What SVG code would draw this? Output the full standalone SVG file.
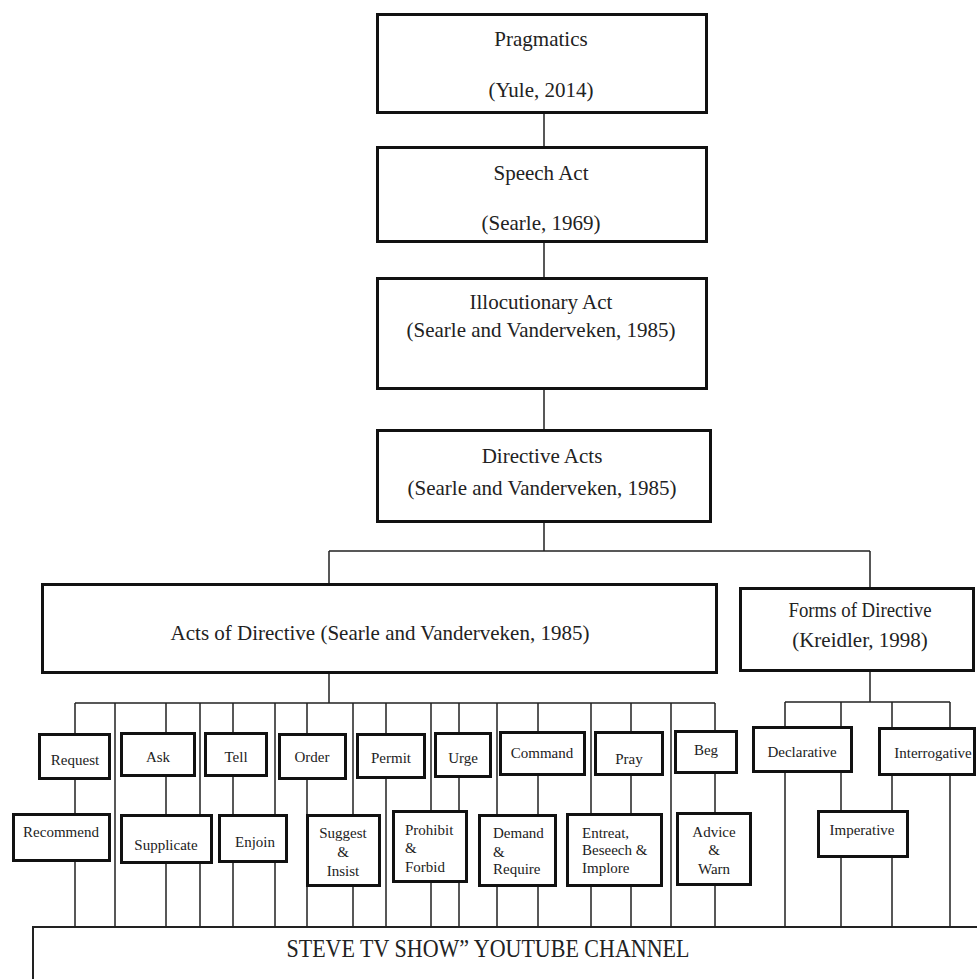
<svg xmlns="http://www.w3.org/2000/svg" width="977" height="979" viewBox="0 0 977 979">
<style>
.box{fill:#fff;stroke:#111;stroke-width:3}
.bot{fill:#fff;stroke:#222;stroke-width:2}
.ln{stroke:#222;stroke-width:1.5;fill:none}
text{font-family:"Liberation Serif","Times New Roman",serif;fill:#222}
.big{font-size:21px;text-anchor:middle}
.sm{font-size:15px;text-anchor:middle}
.sl{font-size:15px}
</style>
<rect width="977" height="979" fill="#fff"/>
<g id="bottom">
<rect class="bot" x="33" y="927" width="960" height="80"/>
<text x="488" y="957" font-size="25" text-anchor="middle" textLength="403" lengthAdjust="spacingAndGlyphs">STEVE TV SHOW” YOUTUBE CHANNEL</text>
</g>
<g id="connectors">
<path class="ln" d="M544 114V146M544 243V277M544 390V429M544 523V551M329 551H870M329 551V583M870 551V587M329 674V703M870 672V702M75 703H715M785 702H950"/>
<path class="ln" d="M75 703V927M115 703V927M166 703V927M200 703V927M233 703V927M275 703V927M307 703V927M353 703V927M386 703V927M431 703V927M459 703V927M497 703V927M538 703V927M591 703V927M631 703V927M671 703V927M715 703V927"/>
<path class="ln" d="M785 702V927M841 702V927M892 702V927M950 702V927"/>
</g>
<g id="pragmatics"><rect class="box" x="377.5" y="14.5" width="329" height="98"/>
<text class="big" x="541" y="46">Pragmatics</text><text class="big" x="541" y="97">(Yule, 2014)</text></g>
<g id="speech-act"><rect class="box" x="377.5" y="147.5" width="329" height="94"/>
<text class="big" x="541" y="180">Speech Act</text><text class="big" x="541" y="230">(Searle, 1969)</text></g>
<g id="illocutionary"><rect class="box" x="377.5" y="278.5" width="329" height="110"/>
<text class="big" x="541" y="309">Illocutionary Act</text><text class="big" x="541" y="337">(Searle and Vanderveken, 1985)</text></g>
<g id="directive-acts"><rect class="box" x="377.5" y="430.5" width="333" height="91"/>
<text class="big" x="542" y="463">Directive Acts</text><text class="big" x="542" y="495">(Searle and Vanderveken, 1985)</text></g>
<g id="acts-of-directive"><rect class="box" x="42.5" y="584.5" width="674" height="88"/>
<text class="big" x="380" y="640">Acts of Directive (Searle and Vanderveken, 1985)</text></g>
<g id="forms-of-directive"><rect class="box" x="740.5" y="588.5" width="233" height="82"/>
<text class="big" x="860" y="617" textLength="143" lengthAdjust="spacingAndGlyphs">Forms of Directive</text><text class="big" x="860" y="647">(Kreidler, 1998)</text></g>
<g id="request"><rect class="box" x="39.5" y="734.5" width="70" height="44"/><text class="sm" x="75" y="765">Request</text></g>
<g id="ask"><rect class="box" x="121.5" y="733.5" width="73" height="42"/><text class="sm" x="158" y="762">Ask</text></g>
<g id="tell"><rect class="box" x="205.5" y="733.5" width="61" height="42"/><text class="sm" x="236" y="762">Tell</text></g>
<g id="order"><rect class="box" x="279.5" y="734.5" width="66" height="44"/><text class="sm" x="312" y="762">Order</text></g>
<g id="permit"><rect class="box" x="357.5" y="734.5" width="67" height="43"/><text class="sm" x="391" y="763">Permit</text></g>
<g id="urge"><rect class="box" x="435.5" y="733.5" width="55" height="43"/><text class="sm" x="463" y="763">Urge</text></g>
<g id="command"><rect class="box" x="500.5" y="732.5" width="84" height="42"/><text class="sm" x="542" y="758">Command</text></g>
<g id="pray"><rect class="box" x="595.5" y="732.5" width="67" height="42"/><text class="sm" x="629" y="764">Pray</text></g>
<g id="beg"><rect class="box" x="675.5" y="731.5" width="61" height="41"/><text class="sm" x="706" y="755">Beg</text></g>
<g id="declarative"><rect class="box" x="753.5" y="727.5" width="98" height="44"/><text class="sm" x="802" y="757">Declarative</text></g>
<g id="interrogative"><rect class="box" x="879.5" y="728.5" width="95" height="46"/><text class="sm" x="933" y="758">Interrogative</text></g>
<g id="recommend"><rect class="box" x="13.5" y="814.5" width="96" height="46"/><text class="sm" x="61" y="837">Recommend</text></g>
<g id="supplicate"><rect class="box" x="121.5" y="815.5" width="90" height="47"/><text class="sm" x="166" y="850">Supplicate</text></g>
<g id="enjoin"><rect class="box" x="219.5" y="815.5" width="67" height="46"/><text class="sm" x="255" y="847">Enjoin</text></g>
<g id="suggest"><rect class="box" x="307.5" y="815.5" width="72" height="70"/>
<text class="sm" x="343" y="838">Suggest</text><text class="sm" x="343" y="857">&amp;</text><text class="sm" x="343" y="876">Insist</text></g>
<g id="prohibit"><rect class="box" x="393.5" y="811.5" width="73" height="70"/>
<text class="sl" x="405" y="835">Prohibit</text><text class="sl" x="405" y="853">&amp;</text><text class="sl" x="405" y="872">Forbid</text></g>
<g id="demand"><rect class="box" x="479.5" y="815.5" width="76" height="70"/>
<text class="sl" x="493" y="838">Demand</text><text class="sl" x="493" y="857">&amp;</text><text class="sl" x="493" y="874">Require</text></g>
<g id="entreat"><rect class="box" x="567.5" y="814.5" width="94" height="71"/>
<text class="sl" x="582" y="838">Entreat,</text><text class="sl" x="582" y="855">Beseech &amp;</text><text class="sl" x="582" y="873">Implore</text></g>
<g id="advice"><rect class="box" x="677.5" y="813.5" width="73" height="71"/>
<text class="sm" x="714" y="837">Advice</text><text class="sm" x="714" y="855">&amp;</text><text class="sm" x="714" y="874">Warn</text></g>
<g id="imperative"><rect class="box" x="818.5" y="811.5" width="89" height="45"/><text class="sm" x="862" y="835">Imperative</text></g>
</svg>
